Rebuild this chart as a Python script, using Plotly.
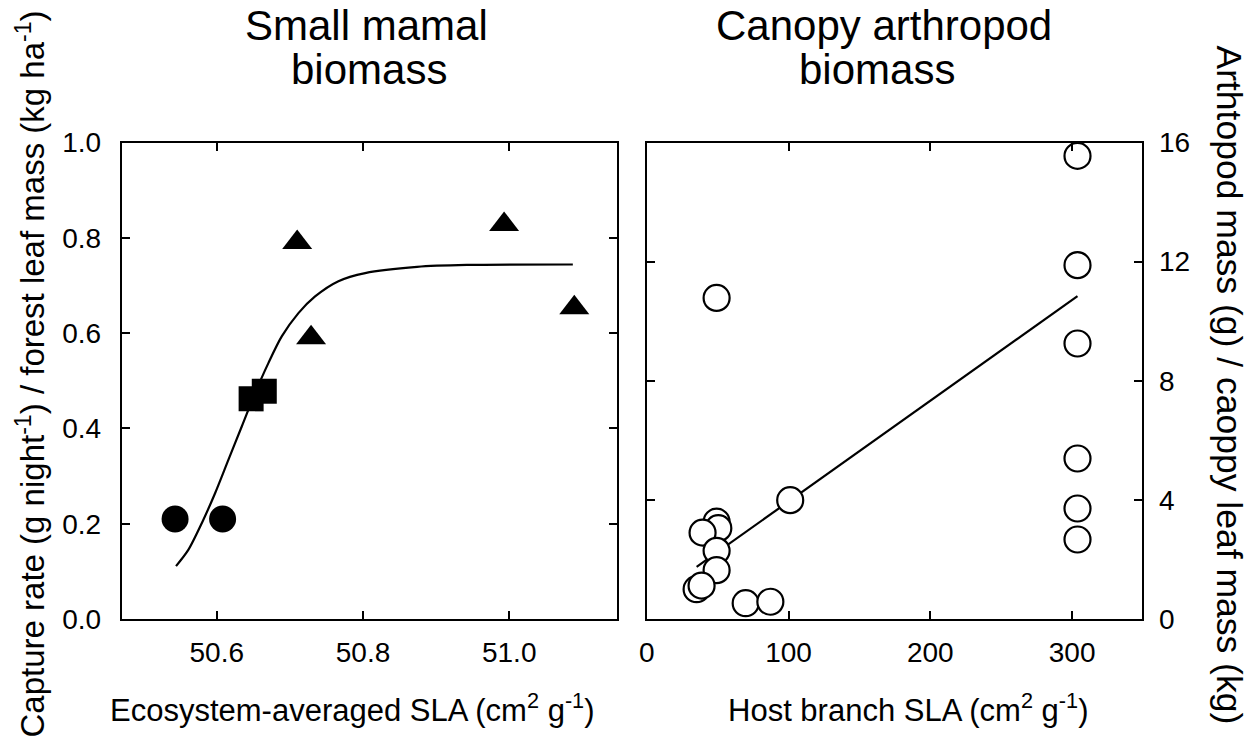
import plotly.graph_objects as go

# ---------------- data ----------------
# Left panel: small mammal biomass
circle_x = [50.543, 50.608]
circle_y = [0.21, 0.21]
square_x = [50.647, 50.665]
square_y = [0.462, 0.478]
tri_x = [50.710, 50.729, 50.993, 51.089]
tri_y = [0.790, 0.590, 0.828, 0.653]
curve_x = [50.5443, 50.5611, 50.5795, 50.5977, 50.6159, 50.6342, 50.6524,
           50.6706, 50.6889, 50.7117, 50.7345, 50.7664, 50.803, 50.874,
           50.942, 51.087]
curve_y = [0.111, 0.145, 0.201, 0.264, 0.334, 0.404, 0.474,
           0.537, 0.593, 0.642, 0.677, 0.709, 0.726, 0.739,
           0.743, 0.744]

# Right panel: canopy arthropod biomass
arth_x = [303.8, 303.8, 303.8, 303.8, 303.8, 303.8, 49.3, 101.2, 49.3, 50.5,
          39.4, 49.3, 49.3, 35.2, 38.7, 69.8, 87.2]
arth_y = [15.55, 11.88, 9.25, 5.39, 3.71, 2.67, 10.78, 3.99, 3.27, 3.05,
          2.90, 2.29, 1.64, 1.00, 1.12, 0.53, 0.58]
fit_x = [35.2, 303.8]
fit_y = [1.75, 10.84]

left_xticks = [50.6, 50.8, 51.0]
left_yticks = [0.0, 0.2, 0.4, 0.6, 0.8, 1.0]
right_xticks = [0, 100, 200, 300]
right_yticks = [0, 4, 8, 12, 16]

# ---------------- figure ----------------
W, H = 1257, 744
FONT = "Liberation Sans, Arial, sans-serif"

fig = go.Figure()

fig.add_trace(go.Scatter(x=curve_x, y=curve_y, mode="lines",
                         line=dict(color="black", width=2.2, shape="spline", smoothing=0.8),
                         xaxis="x", yaxis="y", showlegend=False))
fig.add_trace(go.Scatter(x=circle_x, y=circle_y, mode="markers",
                         marker=dict(symbol="circle", size=27, color="black"),
                         xaxis="x", yaxis="y", showlegend=False))
fig.add_trace(go.Scatter(x=square_x, y=square_y, mode="markers",
                         marker=dict(symbol="square", size=25, color="black"),
                         xaxis="x", yaxis="y", showlegend=False))
fig.add_trace(go.Scatter(x=tri_x, y=tri_y, mode="markers",
                         marker=dict(symbol="triangle-up", size=26, color="black"),
                         xaxis="x", yaxis="y", showlegend=False))

fig.add_trace(go.Scatter(x=fit_x, y=fit_y, mode="lines",
                         line=dict(color="black", width=2.2),
                         xaxis="x2", yaxis="y2", showlegend=False))
fig.add_trace(go.Scatter(x=arth_x, y=arth_y, mode="markers",
                         marker=dict(symbol="circle", size=26, color="white",
                                     line=dict(color="black", width=2.2)),
                         xaxis="x2", yaxis="y2", showlegend=False))

def px_x(p):
    return p / W

def px_y(p):
    return 1 - p / H

ydom = [px_y(619), px_y(142.5)]

axis_common = dict(showline=True, linecolor="black", linewidth=2,
                   mirror="ticks", ticks="inside", ticklen=8, tickwidth=2,
                   tickcolor="black", showgrid=False, zeroline=False,
                   tickfont=dict(family=FONT, size=28, color="black"),
                   automargin=False)

fig.update_layout(
    width=W, height=H, autosize=False,
    margin=dict(l=0, r=0, t=0, b=0),
    paper_bgcolor="white", plot_bgcolor="white",
    xaxis=dict(domain=[px_x(121.7), px_x(616.7)], range=[50.47, 51.147],
               tickvals=left_xticks, ticktext=[f"{v:.1f}" for v in left_xticks],
               anchor="y", ticklabelstandoff=7, **axis_common),
    yaxis=dict(domain=ydom, range=[0, 1.0], tickvals=left_yticks,
               ticktext=[f"{v:.1f}" for v in left_yticks],
               anchor="x", ticklabelstandoff=13, **axis_common),
    xaxis2=dict(domain=[px_x(646.7), px_x(1142.3)], range=[0, 349.5],
                tickvals=right_xticks, ticktext=[str(v) for v in right_xticks],
                anchor="y2", ticklabelstandoff=7, **axis_common),
    yaxis2=dict(domain=ydom, range=[0, 16], tickvals=right_yticks,
                ticktext=[str(v) for v in right_yticks], side="right",
                anchor="x2", ticklabelstandoff=9, **axis_common),
)

def ann(text, x, y, size, angle=0):
    fig.add_annotation(text=text, x=px_x(x), y=px_y(y), xref="paper", yref="paper",
                       xanchor="center", yanchor="middle", showarrow=False,
                       textangle=angle,
                       font=dict(family=FONT, size=size, color="black"))

# panel titles
ann("Small mamal", 366, 26, 42)
ann("biomass", 369, 69, 42)
ann("Canopy arthropod", 884, 26, 42)
ann("biomass", 877, 69, 42)

# axis titles
ann("Ecosystem-averaged SLA (cm<sup>2</sup> g<sup>-1</sup>)", 352, 708, 31)
ann("Host branch SLA (cm<sup>2</sup> g<sup>-1</sup>)", 908, 708, 31)
ann("Capture rate (g night<sup>-1</sup>) / forest leaf mass (kg ha<sup>-1</sup>)",
    30.5, 374, 33, angle=-90)
ann("Arthtopod mass (g) / caoppy leaf mass (kg)", 1228.5, 385, 35.5, angle=90)

fig.write_html("out.html", config={"displayModeBar": False},
               post_script="document.body.style.margin='0';document.body.style.overflow='hidden';")
